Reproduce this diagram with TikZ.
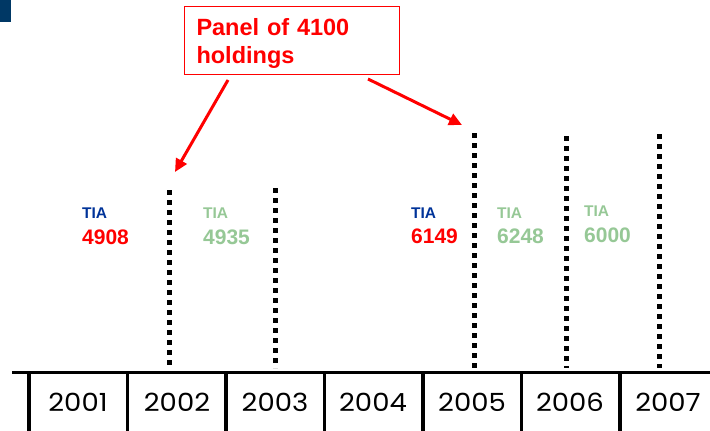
\documentclass[tikz,border=0pt]{standalone}
\usepackage{fontspec}
\setmainfont{Liberation Sans}
\newfontfamily\yearfont[FakeStretch=1.1]{Poppins}
\definecolor{tiablue}{RGB}{0, 51, 153}
\definecolor{tiagreen}{RGB}{150, 200, 150}
\definecolor{panelred}{RGB}{255, 0, 0}
\definecolor{cornerblue}{RGB}{0, 56, 101}
\usetikzlibrary{arrows.meta, positioning, calc}

\begin{document}
\begin{tikzpicture}[
  x=1pt, y=-1pt,
  panelbox/.style={draw=panelred, line width=1pt, text=panelred, anchor=north west, minimum width=215pt, minimum height=68pt, text width=191pt, inner xsep=12pt, align=left, font=\fontsize{23.5}{28}\selectfont\bfseries},
  panelarrow/.style={draw=panelred, line width=3pt, -{Triangle[length=13pt, width=12pt]}},
  tialabel/.style={anchor=base west, inner sep=0pt, font=\fontsize{15.5}{18}\selectfont\bfseries},
  tianum/.style={anchor=base west, inner sep=0pt, font=\fontsize{21}{24}\selectfont\bfseries},
  dotline/.style={line width=5pt, dash pattern=on 5pt off 5pt},
  timeline/.style={line width=3pt},
  divider/.style={line width=3.5pt},
  yearlabel/.style={inner sep=0pt, font=\yearfont\fontsize{25}{28}\selectfont}
]
  \useasboundingbox (0,0) rectangle (710,431);
  \fill[white] (0,0) rectangle (710,431);
  \fill[cornerblue] (0,0) rectangle (11,22);

  \node[panelbox] (panel) at (184,6) {\rule{0pt}{23.5pt}Panel of 4100\\holdings};
  \coordinate (tip2002) at (175,172);
  \coordinate (tip2005) at (462,125);
  \draw[panelarrow] ($(panel.south west)+(44,5)$) -- (tip2002);
  \draw[panelarrow] ($(panel.south east)+(-32,4)$) -- (tip2005);

  \foreach \x/\top in {169/190, 275/188, 474/133, 566/136, 659/134}
    \draw[dotline] (\x,\top) -- (\x,368);

  \node[tialabel, text=tiablue] (tia2001) at (82,218) {TIA};
  \node[tianum, text=panelred] (num2001) at (82,244) {4908};
  \node[tialabel, text=tiagreen] (tia2002) at (203,218) {TIA};
  \node[tianum, text=tiagreen] (num2002) at (203,244) {4935};
  \node[tialabel, text=tiablue] (tia2004) at (411,218) {TIA};
  \node[tianum, text=panelred] (num2004) at (411,243) {6149};
  \node[tialabel, text=tiagreen] (tia2005) at (497,218) {TIA};
  \node[tianum, text=tiagreen] (num2005) at (497,243) {6248};
  \node[tialabel, text=tiagreen] (tia2006) at (584,216) {TIA};
  \node[tianum, text=tiagreen] (num2006) at (584,242) {6000};

  \draw[timeline] (12,372) -- (710,372);
  \foreach \x in {29, 127.5, 226, 324.5, 423, 521.5, 620}
    \draw[divider] (\x,372) -- (\x,431);
  \foreach \yr/\x in {2001/78, 2002/177, 2003/275, 2004/373, 2005/472, 2006/570, 2007/668}
    \node[yearlabel] (y\yr) at (\x,402) {\yr};
\end{tikzpicture}
\end{document}
